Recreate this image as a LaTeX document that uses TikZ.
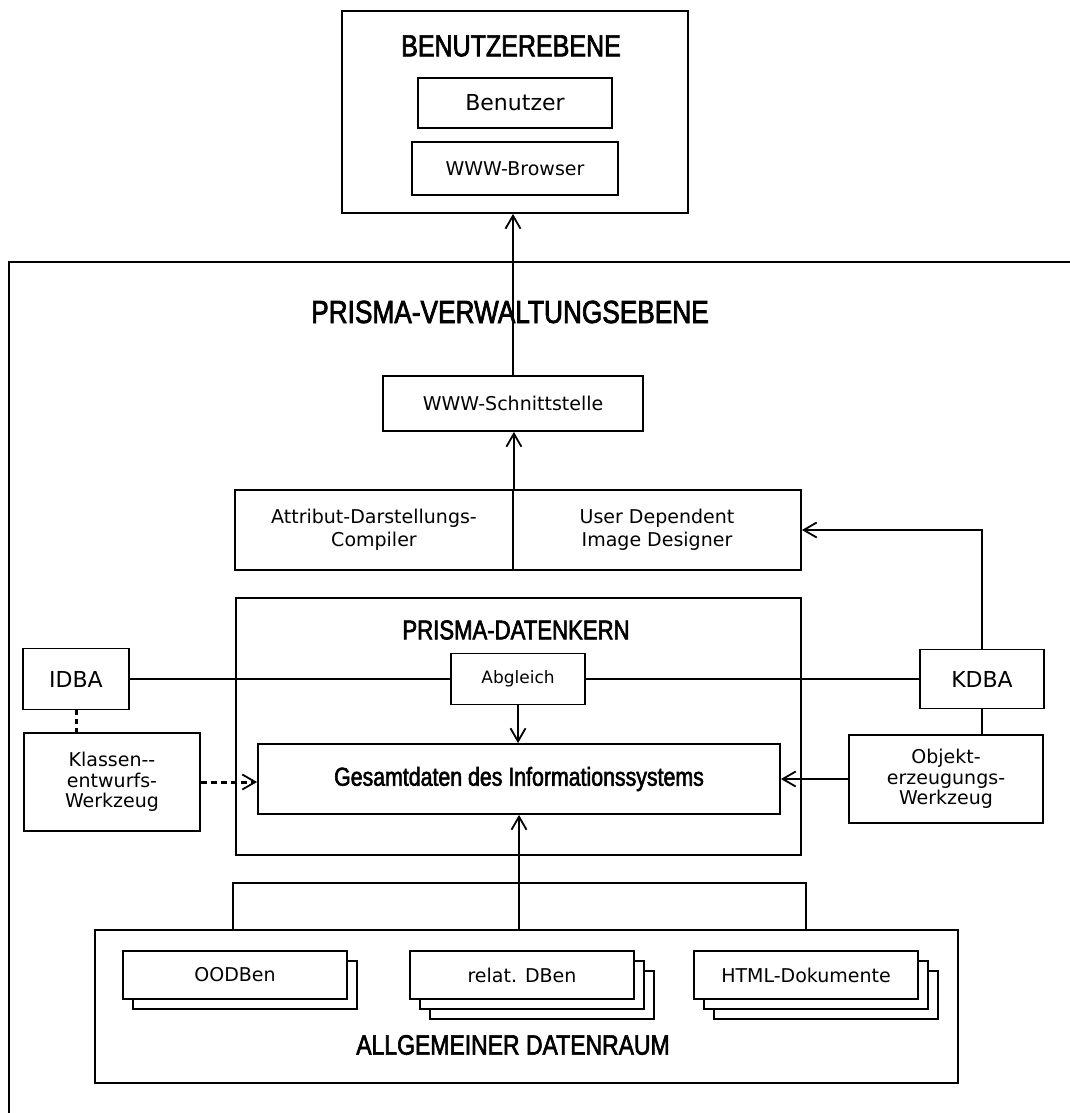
\documentclass[tikz,border=0pt]{standalone}
\usepackage{fontspec}
\setmainfont{DejaVu Sans}
\newfontfamily\headfont[FakeStretch=0.82,FakeBold=2.2]{Liberation Sans}
\usetikzlibrary{arrows.meta}

\begin{document}
\begin{tikzpicture}[x=1pt,y=-1pt,
  box/.style={draw, line width=1.8pt, inner sep=0pt, align=center},
  doc/.style={box, fill=white, minimum width=224pt, minimum height=48pt, txt},
  link/.style={line width=1.8pt},
  tip/.style={-{Straight Barb[length=13pt,width=15pt,line width=1.8pt]}},
  arr/.style={link, tip},
  dotlink/.style={line width=3pt, dash pattern=on 5pt off 4pt},
  dasharr/.style={line width=3pt, dash pattern=on 6pt off 4pt, tip},
  head/.style={font=\headfont\fontsize{30.5}{34}\selectfont},
  txt/.style={font=\fontsize{19}{23}\selectfont},
  big/.style={font=\fontsize{22}{26}\selectfont}
]
\useasboundingbox (0,0) rectangle (1070,1113);

% user level
\node[box, minimum width=346pt, minimum height=202pt] (top) at (515,112) {};
\node[head] (topTitle) at (511,46) {BENUTZEREBENE};
\node[box, big, minimum width=194pt, minimum height=50pt] (benutzer) at (515,103) {Benutzer};
\node[box, txt, minimum width=206pt, minimum height=53pt] (browser) at (515,168.5) {WWW-Browser};

% management level frame
\draw[line width=1.8pt] (9,1113) -- (9,262) -- (1070,262);
\node[head, font=\headfont\fontsize{32}{36}\selectfont] (verwTitle) at (510,312) {PRISMA-VERWALTUNGSEBENE};

\node[box, txt, minimum width=260pt, minimum height=55pt] (schn) at (513,403.5) {WWW-Schnittstelle};
\node[box, txt, minimum width=278pt, minimum height=80pt] (attr) at (374,530) {Attribut-Darstellungs-\\Compiler};
\node[box, txt, minimum width=288pt, minimum height=80pt] (udid) at (657,530) {User Dependent\\Image Designer};

% data kernel
\node[box, minimum width=565pt, minimum height=257pt] (kern) at (518.5,726.5) {};
\node[head, font=\headfont\fontsize{27}{30}\selectfont] (kernTitle) at (516,630) {PRISMA-DATENKERN};
\node[box, font=\fontsize{17}{20}\selectfont, minimum width=134pt, minimum height=51pt] (abgl) at (518,679) {Abgleich};
\node[box, font=\headfont\fontsize{26}{29}\selectfont, minimum width=522pt, minimum height=70pt] (gesamt) at (519,779) {Gesamtdaten des Informationssystems};

% side tools
\node[box, big, minimum width=106pt, minimum height=61pt] (idba) at (76,679) {IDBA};
\node[box, font=\fontsize{19}{20.5}\selectfont, minimum width=176pt, minimum height=98pt] (klassen) at (112,782) {Klassen-{}-\\entwurfs-\\Werkzeug};
\node[box, big, minimum width=124pt, minimum height=59pt] (kdba) at (982,679) {KDBA};
\node[box, font=\fontsize{19}{20.5}\selectfont, minimum width=194pt, minimum height=88pt] (objekt) at (946,779) {Objekt-\\erzeugungs-\\Werkzeug};

% general data space
\node[box, minimum width=863pt, minimum height=153pt] (raum) at (526.5,1006.5) {};
\node[head, font=\headfont\fontsize{28}{31}\selectfont] (raumTitle) at (513,1045) {ALLGEMEINER DATENRAUM};

\node[doc] (oodbB) at (245,985) {};
\node[doc] (oodb) at (235,975) {OODBen};
\node[doc] (relatC) at (542,995) {};
\node[doc] (relatB) at (532,985) {};
\node[doc] (relat) at (522,975) {relat. DBen};
\node[doc] (htmlC) at (826,995) {};
\node[doc] (htmlB) at (816,985) {};
\node[doc] (html) at (806,975) {HTML-Dokumente};

% connectors
\draw[arr] (schn.north) -- (schn.north |- top.south);
\draw[arr] (attr.north east) -- (attr.north east |- schn.south);
\draw[arr] (kdba.north) |- (udid.east);
\draw[link] (idba.east) -- (abgl.west);
\draw[link] (abgl.east) -- (kdba.west);
\draw[arr] (abgl.south) -- (abgl.south |- gesamt.north);
\draw[dotlink] (idba.south) -- (idba.south |- klassen.north);
\draw[dasharr] (klassen.east) -- (klassen.east -| gesamt.west);
\draw[link] (kdba.south) -- (kdba.south |- objekt.north);
\draw[arr] (objekt.west) -- (objekt.west -| gesamt.east);
\draw[arr] (raum.north -| gesamt.south) -- (gesamt.south);
\coordinate (brL) at (233,883);
\coordinate (brR) at (806,883);
\draw[link] (raum.north -| brL) -- (brL) -- (brR) -- (raum.north -| brR);
\end{tikzpicture}
\end{document}
